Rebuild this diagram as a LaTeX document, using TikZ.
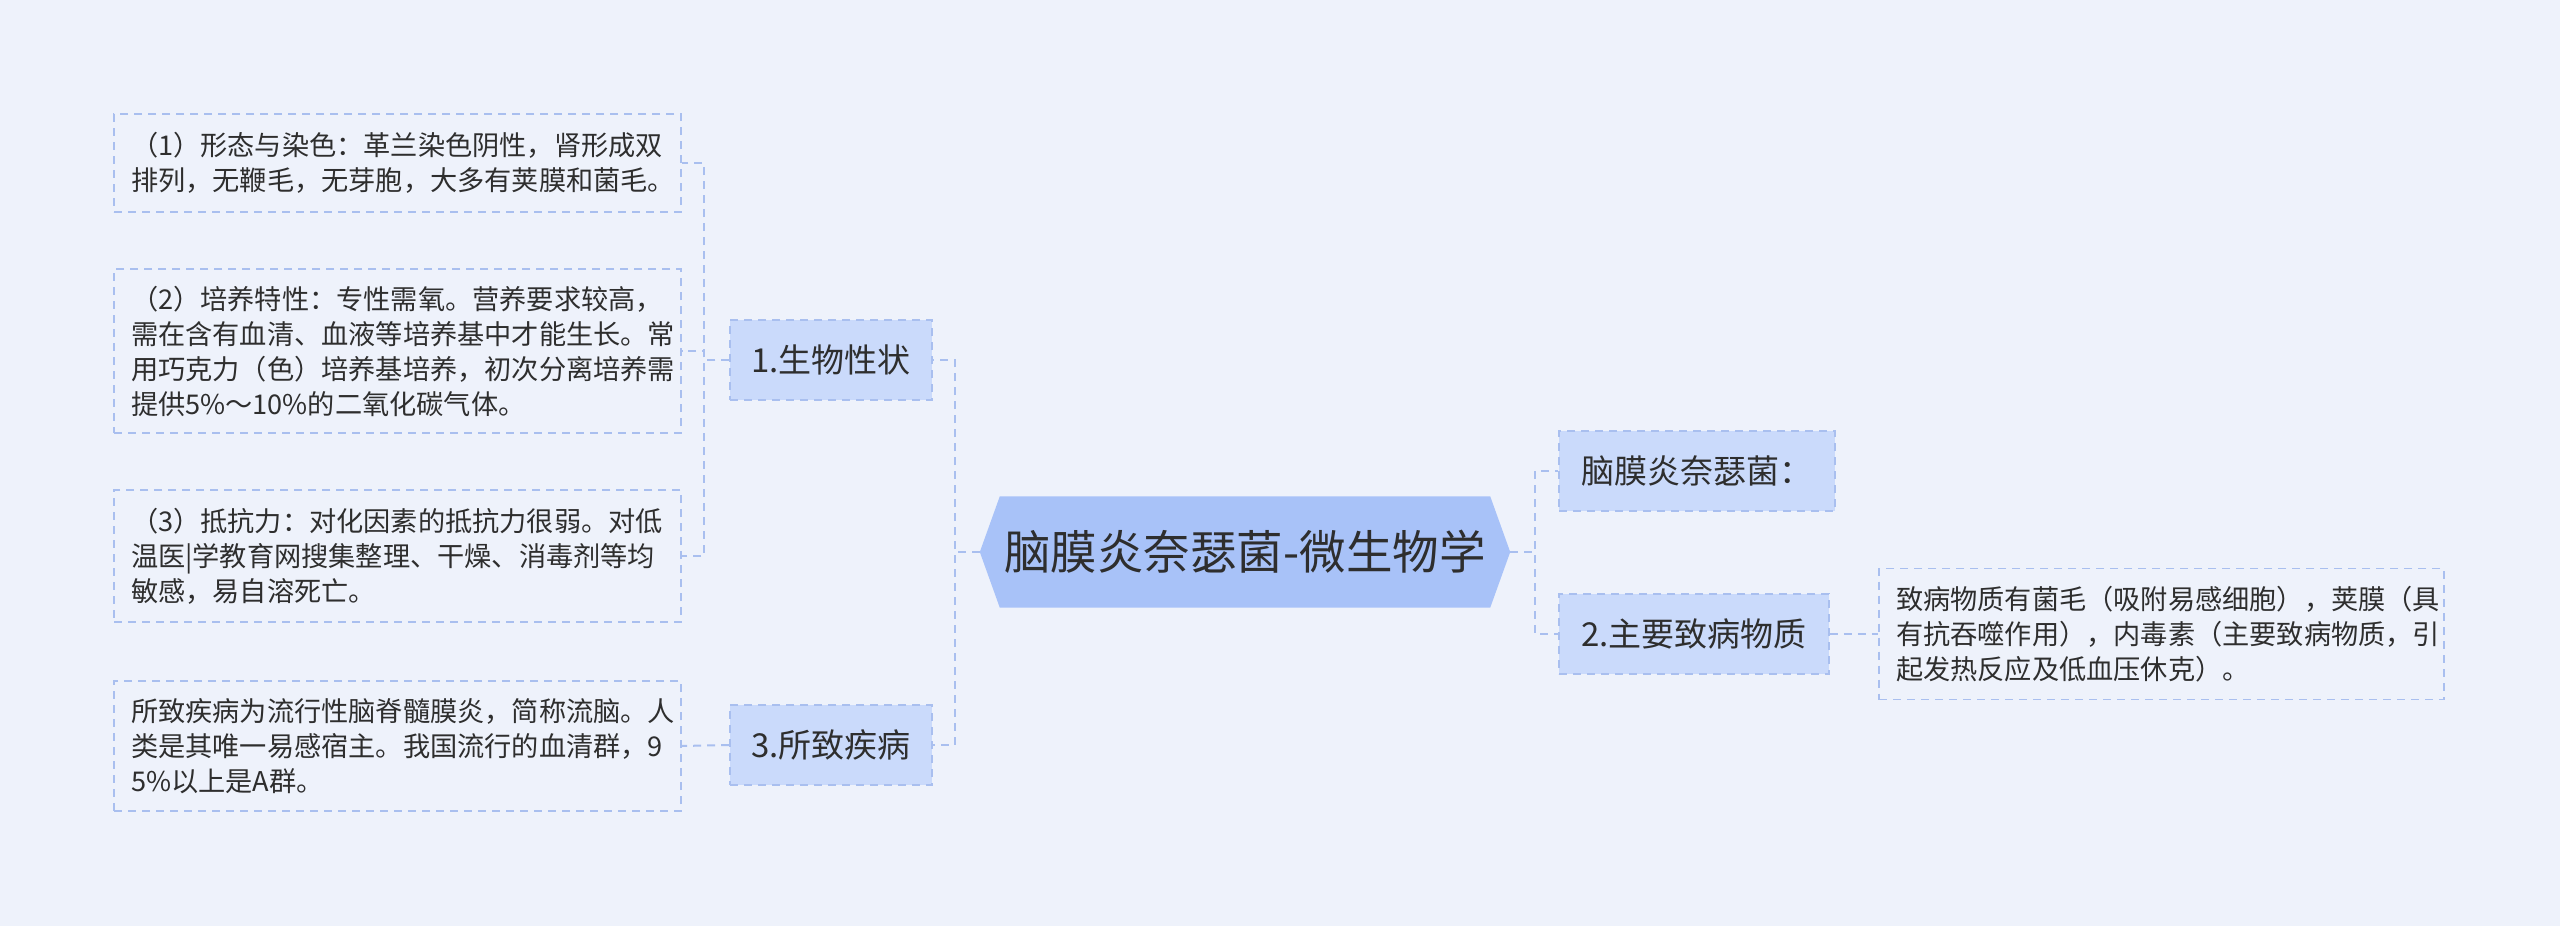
\documentclass[tikz,border=0pt]{standalone}
\usepackage{fontspec}
\setmainfont{Noto Sans CJK SC}
\usetikzlibrary{backgrounds}
\definecolor{bg}{HTML}{EEF2FB}
\definecolor{hexfill}{HTML}{A8C2F8}
\definecolor{subfill}{HTML}{CADAFB}
\definecolor{edge}{HTML}{A9BFEF}
\definecolor{ink}{HTML}{2E2E2E}
\begin{document}
\begin{tikzpicture}[x=1pt,y=-1pt,
  conn/.style={draw=edge, line width=2pt, dash pattern=on 8pt off 6pt},
  leafbox/.style={draw=edge, line width=1.6pt, dash pattern=on 8pt off 6pt, align=left,
    inner xsep=17pt, inner ysep=0pt, font=\fontsize{27.2}{35}\selectfont, text=ink},
  subbox/.style={draw=edge, fill=subfill, line width=1.6pt, dash pattern=on 8pt off 6pt,
    inner sep=0pt, minimum height=80pt, font=\fontsize{33}{40}\selectfont, text=ink},
  rootbox/.style={inner sep=0pt, minimum width=530pt, minimum height=111pt,
    font=\fontsize{46.5}{52}\selectfont, text=ink}
  ]
\useasboundingbox (0,0) rectangle (2560,926);

\node[rootbox] (root) at (1245,552) {脑膜炎奈瑟菌-微生物学};

\node[subbox, minimum width=202pt] (s1) at (831,360) {1.生物性状};
\node[subbox, minimum width=202pt] (s3) at (831,745) {3.所致疾病};
\node[subbox, minimum width=276pt] (r1) at (1697,471) {脑膜炎奈瑟菌：};
\node[subbox, minimum width=270pt] (r2) at (1694,634) {2.主要致病物质};

\node[leafbox, text width=533pt, minimum height=98pt] (l1) at (397.5,163)
  {（1）形态与染色：革兰染色阴性，肾形成双\\排列，无鞭毛，无芽胞，大多有荚膜和菌毛。};
\node[leafbox, text width=533pt, minimum height=164pt] (l2) at (397.5,351)
  {（2）培养特性：专性需氧。营养要求较高，\\需在含有血清、血液等培养基中才能生长。常\\用巧克力（色）培养基培养，初次分离培养需\\提供5\%～10\%的二氧化碳气体。};
\node[leafbox, text width=533pt, minimum height=132pt] (l3) at (397.5,556)
  {（3）抵抗力：对化因素的抵抗力很弱。对低\\温医|学教育网搜集整理、干燥、消毒剂等均\\敏感，易自溶死亡。};
\node[leafbox, text width=533pt, minimum height=130pt] (l4) at (397.5,746)
  {所致疾病为流行性脑脊髓膜炎，简称流脑。人\\类是其唯一易感宿主。我国流行的血清群，9\\5\%以上是A群。};
\node[leafbox, text width=531pt, minimum height=131pt] (rl) at (2161.5,634)
  {致病物质有菌毛（吸附易感细胞），荚膜（具\\有抗吞噬作用），内毒素（主要致病物质，引\\起发热反应及低血压休克）。};

\draw[conn] (root.west) -- ([xshift=-25pt]root.west) |- (s1.east);
\draw[conn] (root.west) -- ([xshift=-25pt]root.west) |- (s3.east);
\draw[conn] (root.east) -- ([xshift=25pt]root.east) |- (r1.west);
\draw[conn] (root.east) -- ([xshift=25pt]root.east) |- (r2.west);
\draw[conn] (s1.west) -- ([xshift=-25pt]s1.west) |- (l1.east);
\draw[conn] (s1.west) -- ([xshift=-25pt]s1.west) |- (l2.east);
\draw[conn] (s1.west) -- ([xshift=-25pt]s1.west) |- (l3.east);
\draw[conn] (s3.west) -- (l4.east);
\draw[conn] (r2.east) -- (rl.west);

\begin{scope}[on background layer]
\fill[bg] (0,0) rectangle (2560,926);
\fill[hexfill] (root.west) -- ([xshift=20pt]root.north west) -- ([xshift=-20pt]root.north east)
  -- (root.east) -- ([xshift=-20pt]root.south east) -- ([xshift=20pt]root.south west) -- cycle;
\end{scope}
\end{tikzpicture}
\end{document}
